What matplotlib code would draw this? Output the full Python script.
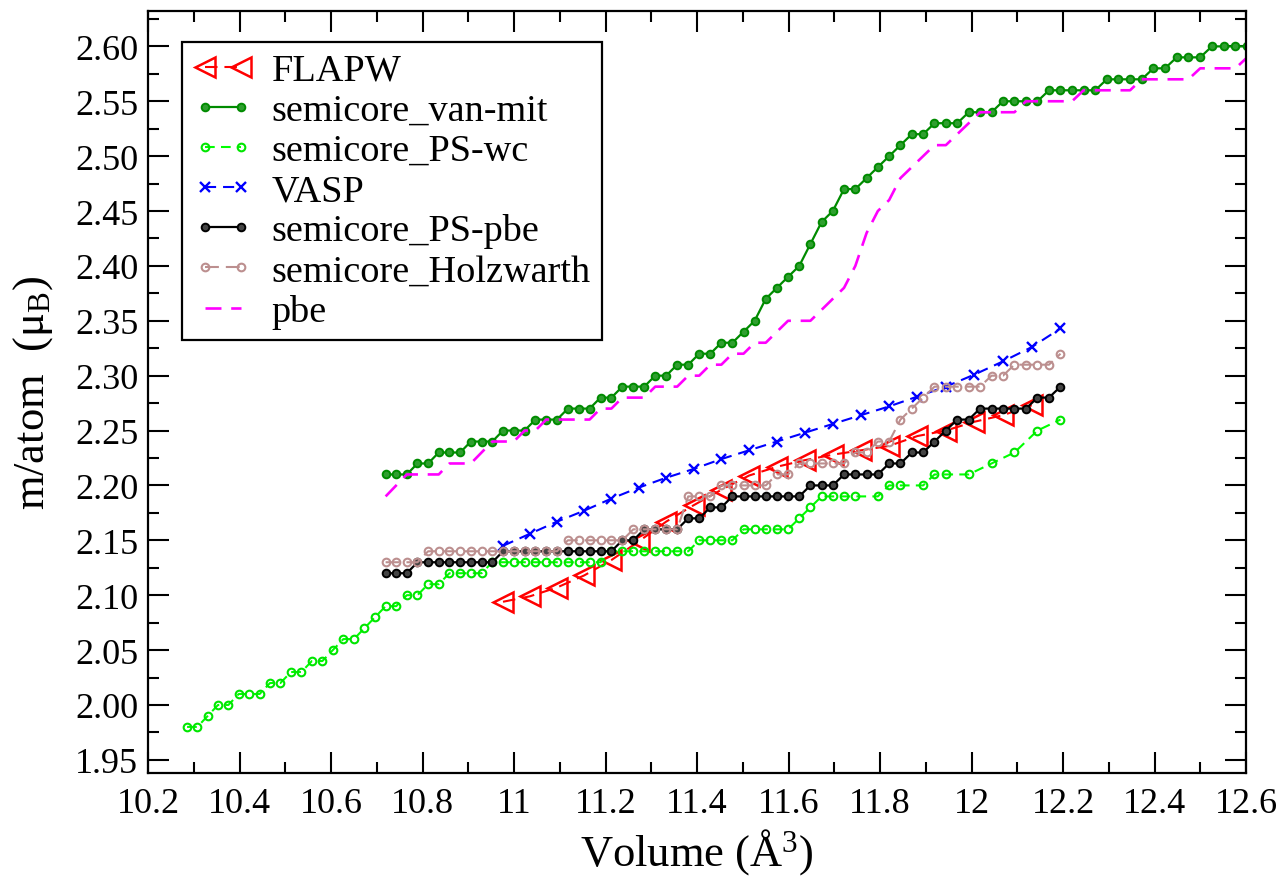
import matplotlib
matplotlib.use("Agg")
import matplotlib.pyplot as plt
from matplotlib.ticker import MultipleLocator, FuncFormatter

plt.rcParams['font.family'] = ['Liberation Serif', 'DejaVu Serif']
plt.rcParams['mathtext.fontset'] = 'custom'
plt.rcParams['mathtext.rm'] = 'Liberation Serif'
plt.rcParams['mathtext.it'] = 'Liberation Serif:italic'
plt.rcParams['lines.scale_dashes'] = False

# Cell volumes (A^3) of the fine lattice-constant scan
volume = [
    10.2854, 10.3079, 10.3305, 10.3530, 10.3757, 10.3984, 10.4212, 10.4440, 10.4667, 10.4895,
    10.5123, 10.5352, 10.5582, 10.5811, 10.6040, 10.6270, 10.6501, 10.6732, 10.6963, 10.7194,
    10.7425, 10.7657, 10.7890, 10.8123, 10.8355, 10.8588, 10.8823, 10.9057, 10.9291, 10.9526,
    10.9760, 10.9996, 11.0232, 11.0468, 11.0704, 11.0940, 11.1178, 11.1416, 11.1653, 11.1891,
    11.2129, 11.2368, 11.2608, 11.2847, 11.3087, 11.3326, 11.3567, 11.3808, 11.4049, 11.4290,
    11.4532, 11.4774, 11.5017, 11.5260, 11.5503, 11.5746, 11.5990, 11.6235, 11.6479, 11.6724,
    11.6968, 11.7214, 11.7461, 11.7707, 11.7953, 11.8200, 11.8447, 11.8695, 11.8943, 11.9191,
    11.9439, 11.9689, 11.9939, 12.0188, 12.0438, 12.0688, 12.0939, 12.1191, 12.1442, 12.1694,
    12.1945, 12.2198, 12.2451, 12.2704, 12.2958, 12.3211, 12.3466, 12.3721, 12.3976, 12.4230,
    12.4485, 12.4742, 12.4999, 12.5255, 12.5512, 12.5769, 12.6027,
]

# Cell volumes of the coarse scan (FLAPW, VASP)
volume_coarse = [
    10.9760, 11.0350, 11.0940, 11.1534, 11.2129, 11.2727, 11.3326, 11.3928, 11.4532, 11.5138,
    11.5746, 11.6357, 11.6968, 11.7584, 11.8200, 11.8819, 11.9439, 12.0063, 12.0688, 12.1316,
    12.1945,
]

flapw = [2.094, 2.099, 2.107, 2.118, 2.132, 2.149, 2.167, 2.182, 2.196, 2.209,
         2.217, 2.223, 2.228, 2.232, 2.236, 2.245, 2.250, 2.258, 2.264, 2.273]

vasp = [2.145, 2.156, 2.167, 2.177, 2.188, 2.198, 2.207, 2.215, 2.224, 2.232,
        2.240, 2.248, 2.256, 2.264, 2.272, 2.281, 2.290, 2.301, 2.313, 2.326, 2.343]

van_mit = [
    2.21, 2.21, 2.21, 2.22, 2.22, 2.23, 2.23, 2.23, 2.24, 2.24,
    2.24, 2.25, 2.25, 2.25, 2.26, 2.26, 2.26, 2.27, 2.27, 2.27,
    2.28, 2.28, 2.29, 2.29, 2.29, 2.30, 2.30, 2.31, 2.31, 2.32,
    2.32, 2.33, 2.33, 2.34, 2.35, 2.37, 2.38, 2.39, 2.40, 2.42,
    2.44, 2.45, 2.47, 2.47, 2.48, 2.49, 2.50, 2.51, 2.52, 2.52,
    2.53, 2.53, 2.53, 2.54, 2.54, 2.54, 2.55, 2.55, 2.55, 2.55,
    2.56, 2.56, 2.56, 2.56, 2.56, 2.57, 2.57, 2.57, 2.57, 2.58,
    2.58, 2.59, 2.59, 2.59, 2.60, 2.60, 2.60, 2.60,
]

ps_wc = [
    1.98, 1.98, 1.99, 2.00, 2.00, 2.01, 2.01, 2.01, 2.02, 2.02,
    2.03, 2.03, 2.04, 2.04, 2.05, 2.06, 2.06, 2.07, 2.08, 2.09,
    2.09, 2.10, 2.10, 2.11, 2.11, 2.12, 2.12, 2.12, 2.12, 2.13,
    2.13, 2.13, 2.13, 2.13, 2.13, 2.13, 2.13, 2.13, 2.13, 2.13,
    2.14, 2.14, 2.14, 2.14, 2.14, 2.14, 2.14, 2.14, 2.15, 2.15,
    2.15, 2.15, 2.16, 2.16, 2.16, 2.16, 2.16, 2.17, 2.18, 2.19,
    2.19, 2.19, 2.19,
    2.19, 2.20, 2.20, 2.20, 2.21, 2.21, 2.21, 2.22, 2.23, 2.25, 2.26,
]
ps_wc_points = list(range(63)) + [64, 65, 66, 68, 69, 70, 72, 74, 76, 78, 80]

ps_pbe = [
    2.12, 2.12, 2.12, 2.13, 2.13, 2.13, 2.13, 2.13, 2.13, 2.13,
    2.13, 2.14, 2.14, 2.14, 2.14, 2.14, 2.14, 2.14, 2.14, 2.14,
    2.14, 2.14, 2.15, 2.15, 2.16, 2.16, 2.16, 2.16, 2.17, 2.17,
    2.18, 2.18, 2.19, 2.19, 2.19, 2.19, 2.19, 2.19, 2.19, 2.20,
    2.20, 2.20, 2.21, 2.21, 2.21, 2.21, 2.22, 2.22, 2.23, 2.23,
    2.24, 2.25, 2.26, 2.26, 2.27, 2.27, 2.27, 2.27, 2.27, 2.28,
    2.28, 2.29,
]

holzwarth = [
    2.13, 2.13, 2.13, 2.13, 2.14, 2.14, 2.14, 2.14, 2.14, 2.14,
    2.14, 2.14, 2.14, 2.14, 2.14, 2.14, 2.14, 2.15, 2.15, 2.15,
    2.15, 2.15, 2.15, 2.16, 2.16, 2.16, 2.16, 2.16, 2.19, 2.19,
    2.19, 2.20, 2.20, 2.20, 2.20, 2.20, 2.21, 2.21, 2.22, 2.22,
    2.22, 2.22, 2.22, 2.23, 2.23, 2.24, 2.24, 2.26, 2.27, 2.28,
    2.29, 2.29, 2.29, 2.29, 2.29, 2.30, 2.30, 2.31, 2.31, 2.31,
    2.31, 2.32,
]

pbe = [
    2.19, 2.20, 2.21, 2.21, 2.21, 2.21, 2.22, 2.22, 2.22, 2.23,
    2.24, 2.24, 2.24, 2.25, 2.25, 2.26, 2.26, 2.26, 2.26, 2.26,
    2.27, 2.27, 2.28, 2.28, 2.28, 2.29, 2.29, 2.29, 2.30, 2.30,
    2.31, 2.31, 2.32, 2.32, 2.33, 2.33, 2.34, 2.35, 2.35, 2.35,
    2.36, 2.37, 2.38, 2.40, 2.43, 2.45, 2.46, 2.48, 2.49, 2.50,
    2.51, 2.51, 2.52, 2.53, 2.54, 2.54, 2.54, 2.54, 2.55, 2.55,
    2.55, 2.55, 2.55, 2.56, 2.56, 2.56, 2.56, 2.56, 2.57, 2.57,
    2.57, 2.57, 2.57, 2.58, 2.58, 2.58, 2.58, 2.59,
]

labels = ["FLAPW", "semicore_van-mit", "semicore_PS-wc", "VASP",
          "semicore_PS-pbe", "semicore_Holzwarth", "pbe"]

fig = plt.figure(figsize=(12.84, 8.78), dpi=100)
ax = fig.add_axes([148 / 1284, 1 - 774 / 878, 1098 / 1284, 762.3 / 878])

ax.plot(volume_coarse[:len(flapw)], flapw, color='#ff0000', lw=1.5, dashes=(9, 5),
        marker='<', ms=14, mfc='none', mec='#ff0000', mew=1.8, label=labels[0])
ax.plot(volume[19:19 + len(van_mit)], van_mit, color='#008b00', lw=1.6, ls='-',
        marker='o', ms=5.5, mfc='#2f9f2f', mec='#008b00', mew=1.4, label=labels[1])
ax.plot([volume[i] for i in ps_wc_points], ps_wc, color='#00ff00', lw=1.5, dashes=(7, 4.5),
        marker='o', ms=5.5, mfc='none', mec='#00e600', mew=1.5, label=labels[2])
ax.plot(volume_coarse, vasp, color='#0000ff', lw=1.5, dashes=(8, 5),
        marker='x', ms=7, mec='#0000ff', mew=1.7, label=labels[3])
ax.plot(volume[19:19 + len(ps_pbe)], ps_pbe, color='#000000', lw=1.6, ls='-',
        marker='o', ms=5.5, mfc='#444444', mec='#000000', mew=1.4, label=labels[4])
ax.plot(volume[19:19 + len(holzwarth)], holzwarth, color='#bc8f8f', lw=1.5, dashes=(10, 5),
        marker='o', ms=5.5, mfc='none', mec='#bc8f8f', mew=1.5, label=labels[5])
ax.plot(volume[19:19 + len(pbe)], pbe, color='#ff00ff', lw=1.9, dashes=(11.5, 7),
        label=labels[6])

ax.set_xlim(10.2, 12.6)
ax.set_ylim(1.938, 2.6325)

ax.xaxis.set_major_locator(MultipleLocator(0.2))
ax.xaxis.set_minor_locator(MultipleLocator(0.1))
ax.yaxis.set_major_locator(MultipleLocator(0.05))
ax.yaxis.set_minor_locator(MultipleLocator(0.025))
ax.xaxis.set_major_formatter(FuncFormatter(lambda v, p: f"{round(v, 1):g}"))
ax.yaxis.set_major_formatter(FuncFormatter(lambda v, p: f"{v:.2f}"))

for s in ax.spines.values():
    s.set_linewidth(1.6)
ax.tick_params(which='both', direction='in', top=True, right=True, width=1.5)
ax.tick_params(which='major', length=15)
ax.tick_params(which='minor', length=8)
ax.tick_params(axis='x', which='major', labelsize=26, pad=10)
ax.tick_params(axis='y', which='major', labelsize=26, pad=7)

ax.set_xlabel("Volume (Å$^3$)", fontsize=32)
ax.xaxis.set_label_coords(0.5, -0.120)
ax.xaxis.label.set_verticalalignment('baseline')

ax.set_ylabel("m/atom  (μ$_\\mathrm{B}$)", fontsize=32)
ax.yaxis.set_label_coords(-0.0956, 0.5)
ax.yaxis.label.set_verticalalignment('baseline')

leg = ax.legend(loc='upper left', bbox_to_anchor=(181.7 / 1284, 1 - 42.7 / 878),
                bbox_transform=fig.transFigure, borderaxespad=0, fontsize=27.5,
                numpoints=2, handlelength=1.55, handletextpad=0.5, borderpad=0.3,
                labelspacing=0.14, fancybox=False, framealpha=1, edgecolor='black')
leg.get_frame().set_linewidth(1.6)

fig.savefig("out.png", dpi=100)
